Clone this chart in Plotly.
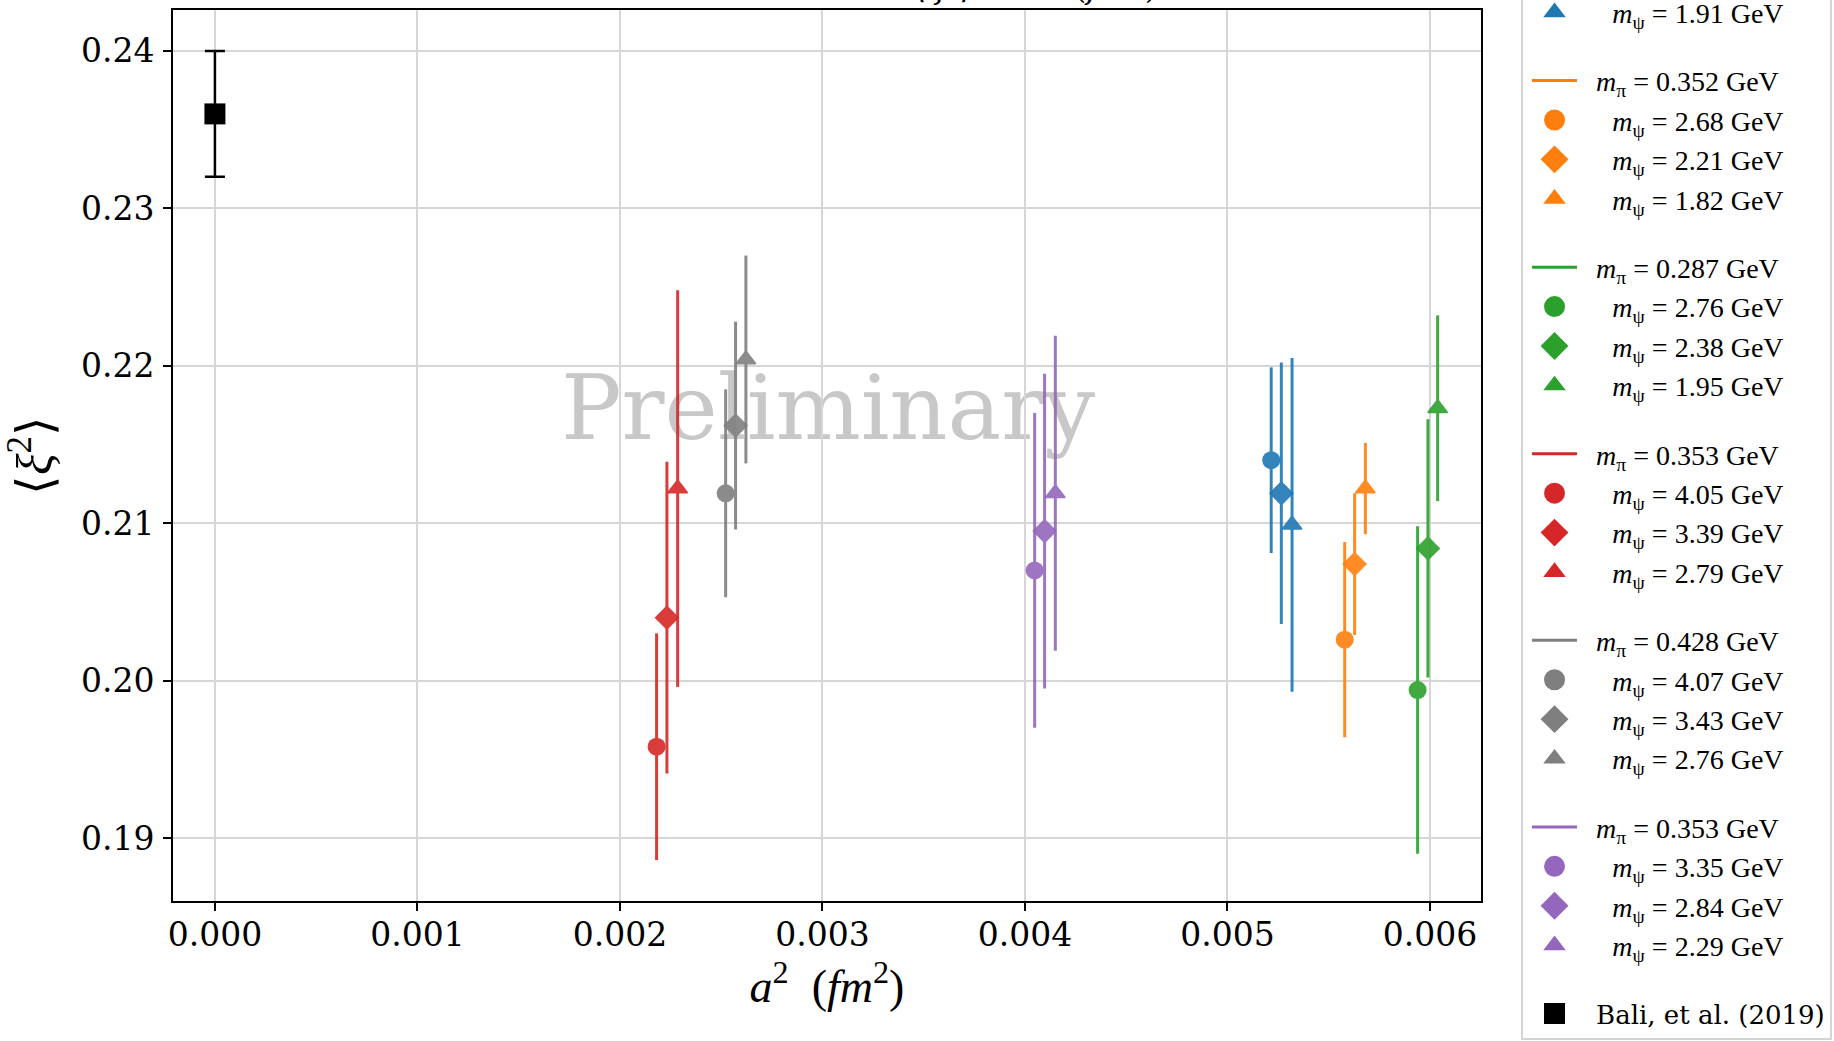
import plotly.graph_objects as go

# ---- data: <xi^2> against lattice spacing a^2 (fm^2) ----
# one group per ensemble (pion mass), three heavy-quark masses each
m_pi = [0.339, 0.352, 0.287, 0.353, 0.428, 0.353]
m_psi = [
    [2.72, 2.31, 1.91],
    [2.68, 2.21, 1.82],
    [2.76, 2.38, 1.95],
    [4.05, 3.39, 2.79],
    [4.07, 3.43, 2.76],
    [3.35, 2.84, 2.29],
]
a2 = [
    [0.005216, 0.005266, 0.005319],
    [0.005579, 0.005628, 0.005681],
    [0.005939, 0.005990, 0.006038],
    [0.002181, 0.002232, 0.002285],
    [0.002522, 0.002571, 0.002622],
    [0.004048, 0.004097, 0.004150],
]
xi2 = [
    [0.2140, 0.2119, 0.2099],
    [0.2026, 0.2074, 0.2122],
    [0.1994, 0.2084, 0.2173],
    [0.1958, 0.2040, 0.2122],
    [0.2119, 0.2162, 0.2204],
    [0.2070, 0.2095, 0.2119],
]
xi2_err = [
    [0.0059, 0.0083, 0.0106],
    [0.0062, 0.0045, 0.0029],
    [0.0104, 0.0082, 0.0059],
    [0.0072, 0.0099, 0.0126],
    [0.0066, 0.0066, 0.0066],
    [0.0100, 0.0100, 0.0100],
]
# continuum reference value
bali_a2 = [0.0]
bali_xi2 = [0.236]
bali_err = [0.004]

x_ticks = [0.000, 0.001, 0.002, 0.003, 0.004, 0.005, 0.006]
y_ticks = [0.19, 0.20, 0.21, 0.22, 0.23, 0.24]

# ---- styling ----
colors = ["#1f77b4", "#ff7f0e", "#2ca02c", "#d62728", "#7f7f7f", "#9467bd"]
symbols = ["circle", "diamond", "triangle-up"]
plot_size = {"circle": 18, "diamond": 19, "triangle-up": 17}
plot_edge = {"circle": 0, "diamond": 0, "triangle-up": 1.5}
legend_edge = {"circle": 5, "diamond": 5, "triangle-up": 2}
SERIF = "DejaVu Serif"
MATH = "Liberation Serif"
NB = "\u00a0"
EQ = f"{NB}={NB}"
HEAD_PAD = NB * 2
SUB_PAD = NB * 4 + "\u200a"


def pi_label(v):
    return f"{HEAD_PAD}<i>m</i><sub>π</sub>{EQ}{v:.3f} GeV"


def psi_label(v):
    return f"{SUB_PAD}<i>m</i><sub>ψ</sub>{EQ}{v:.2f} GeV"


fig = go.Figure()

# data points with error bars
for g, col in enumerate(colors):
    for k, sym in enumerate(symbols):
        fig.add_trace(go.Scatter(
            x=[a2[g][k]], y=[xi2[g][k]], mode="markers",
            marker=dict(symbol=sym, size=plot_size[sym], color=col,
                        line=dict(color=col, width=plot_edge[sym])),
            error_y=dict(type="data", array=[xi2_err[g][k]], color=col,
                         thickness=3, width=0),
            opacity=0.9, showlegend=False, hoverinfo="skip",
        ))

fig.add_trace(go.Scatter(
    x=bali_a2, y=bali_xi2, mode="markers",
    marker=dict(symbol="square", size=21, color="black"),
    error_y=dict(type="data", array=bali_err, color="black", thickness=2.5, width=10),
    showlegend=False, hoverinfo="skip",
))

# legend entries: a line per pion mass, then the three heavy-quark masses
for g, col in enumerate(colors):
    grp = f"ens{g}"
    fig.add_trace(go.Scatter(
        x=[None], y=[None], mode="lines", line=dict(color=col, width=3),
        name=pi_label(m_pi[g]), legendgroup=grp,
    ))
    for k, sym in enumerate(symbols):
        fig.add_trace(go.Scatter(
            x=[None], y=[None], mode="markers",
            marker=dict(symbol=sym, size=16, color=col,
                        line=dict(color=col, width=legend_edge[sym])),
            name=psi_label(m_psi[g][k]), legendgroup=grp,
        ))
fig.add_trace(go.Scatter(
    x=[None], y=[None], mode="markers",
    marker=dict(symbol="square", size=16, color="black", line=dict(color="black", width=5)),
    name=f'{HEAD_PAD}<span style="font-family:{SERIF};font-size:26px">Bali, et al. (2019)</span>',
    legendgroup="ref",
))

axis_common = dict(
    showline=True, linecolor="black", linewidth=2, mirror=True,
    ticks="outside", ticklen=8, tickwidth=1.5, tickcolor="black",
    showgrid=True, gridcolor="#d6d6d6", gridwidth=1.5,
    zeroline=False, tickfont=dict(family=SERIF, size=33, color="black"),
)

fig.update_layout(
    width=1834, height=1041,
    margin=dict(l=173, r=353, t=10, b=140, autoexpand=False),
    paper_bgcolor="white", plot_bgcolor="white",
    xaxis=dict(
        range=[-0.000207, 0.006252], tickvals=x_ticks, tickformat=".3f",
        ticklabelstandoff=-5,
        title=dict(text="<i>a</i><sup>2</sup>  (<i>fm</i><sup>2</sup>)",
                   font=dict(family=MATH, size=46, color="black"), standoff=14),
        **axis_common,
    ),
    yaxis=dict(
        range=[0.1860, 0.2426], tickvals=y_ticks, tickformat=".2f",
        ticklabelstandoff=2,
        title=dict(text="⟨<i>ξ</i><sup>2</sup>⟩",
                   font=dict(family=MATH, size=50, color="black"), standoff=14),
        **axis_common,
    ),
    legend=dict(
        x=1.0306, xanchor="left", y=1.1602, yanchor="top",
        bordercolor="#d4d4d4", borderwidth=2, bgcolor="white",
        font=dict(family=MATH, size=28, color="black"),
        tracegroupgap=29, itemwidth=45, indentation=4, maxheight=2000,
    ),
    annotations=[dict(
        text="Continuum behaviour of ⟨<i>ξ</i><sup>2</sup>⟩ vs <i>a</i><sup>2</sup> (<i>fm</i><sup>2</sup>)",
        xref="paper", yref="paper", x=0.5, y=1.0022, xanchor="center", yanchor="bottom",
        showarrow=False, font=dict(family=SERIF, size=33, color="black"),
    )],
    shapes=[dict(
        type="rect", xref="paper", yref="paper", x0=0.30, x1=0.7016, y0=0.503, y1=0.6186,
        line=dict(width=0), fillcolor="rgba(0,0,0,0)", layer="between",
        label=dict(text="Preliminary", textposition="middle center",
                   font=dict(family=SERIF, size=90, color="#c8c8c8")),
    )],
)

fig.write_html("out.html")
